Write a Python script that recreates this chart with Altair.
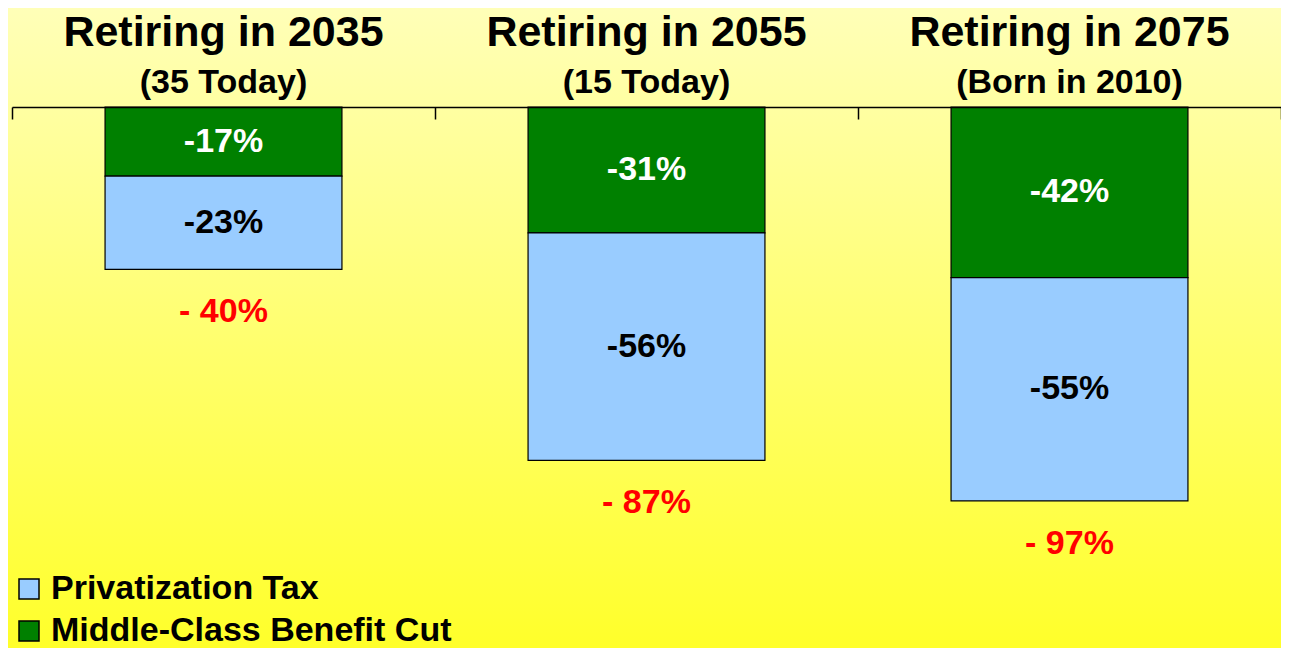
import altair as alt
import pandas as pd

categories = ["2035", "2055", "2075"]
titles = ["Retiring in 2035", "Retiring in 2055", "Retiring in 2075"]
subtitles = ["(35 Today)", "(15 Today)", "(Born in 2010)"]
series_names = ["Privatization Tax", "Middle-Class Benefit Cut"]
series_colors = ["#99CCFF", "#008000"]
benefit_cut = [-17, -31, -42]
privatization_tax = [-23, -56, -55]

rows = []
for i, c in enumerate(categories):
    rows.append({"cat": c, "series": "Middle-Class Benefit Cut", "value": benefit_cut[i], "order": 0})
    rows.append({"cat": c, "series": "Privatization Tax", "value": privatization_tax[i], "order": 1})
df = pd.DataFrame(rows)
head = pd.DataFrame({"cat": categories, "title": titles, "subtitle": subtitles})
one = pd.DataFrame({"a": [0]})

W, H = 1269, 528
PAD = {"left": 4, "top": 99, "right": 0, "bottom": 13}
FONT = "Liberation Sans"

xenc = alt.X(
    "cat:N", sort=categories,
    scale=alt.Scale(paddingInner=0, paddingOuter=0),
    axis=alt.Axis(orient="bottom", offset=-H, labels=False, title=None, domain=True,
                  domainColor="black", domainWidth=1.5, ticks=True, tickBand="extent",
                  tickSize=12, tickColor="black", tickWidth=1.5, grid=False, zindex=1),
)
yscale = alt.Scale(domain=[-130, 0], nice=False, zero=False)

bg = alt.Chart(one).mark_rect(
    fill=alt.LinearGradient(
        gradient="linear",
        stops=[alt.GradientStop(offset=0, color="#FFFFB8"),
               alt.GradientStop(offset=1, color="#FFFF2A")],
        x1=0, x2=0, y1=0, y2=1),
).encode(x=alt.value(-PAD["left"]), x2=alt.value(W + PAD["right"]),
         y=alt.value(-PAD["top"]), y2=alt.value(H + PAD["bottom"]))

base = alt.Chart(df).transform_stack(
    stack="value", groupby=["cat"], as_=["v0", "v1"],
    sort=[alt.SortField("order", order="ascending")],
).transform_calculate(mid="(datum.v0 + datum.v1) / 2", label="datum.value + '%'")

bars = base.mark_bar(stroke="black", strokeWidth=1.2, opacity=1,
                     width=alt.RelativeBandSize(0.56)).encode(
    x=xenc,
    y=alt.Y("v0:Q", scale=yscale, axis=None),
    y2="v1:Q",
    color=alt.Color(
        "series:N",
        scale=alt.Scale(domain=series_names, range=series_colors),
        legend=alt.Legend(title=None, orient="none", legendX=0, legendY=465,
                          direction="vertical", symbolType="square", symbolSize=400,
                          symbolStrokeColor="black", symbolStrokeWidth=1.5, symbolOpacity=1,
                          labelFontSize=34, labelFont=FONT, labelFontWeight="bold",
                          labelColor="black", labelOffset=5, rowPadding=8, padding=0,
                          labelLimit=700),
    ),
)

seg = base.mark_text(fontSize=34, fontWeight="bold", baseline="middle", font=FONT).encode(
    x=xenc,
    y=alt.Y("mid:Q", scale=yscale, axis=None),
    text="label:N",
    color=alt.condition("datum.series == 'Middle-Class Benefit Cut'",
                        alt.value("white"), alt.value("black")),
)

tot = alt.Chart(df).transform_aggregate(
    total="sum(value)", groupby=["cat"]
).transform_calculate(tl="'- ' + abs(datum.total) + '%'").mark_text(
    fontSize=34, fontWeight="bold", color="#FF0000", baseline="alphabetic", dy=53, font=FONT
).encode(x=xenc, y=alt.Y("total:Q", scale=yscale, axis=None), text="tl:N")

t1 = alt.Chart(head).mark_text(fontSize=43, fontWeight="bold", baseline="alphabetic",
                               color="black", font=FONT).encode(
    x=xenc, y=alt.value(-61), text="title:N")
t2 = alt.Chart(head).mark_text(fontSize=34, fontWeight="bold", baseline="alphabetic",
                               color="black", font=FONT).encode(
    x=xenc, y=alt.value(-14), text="subtitle:N")

chart = alt.layer(bg, bars, seg, tot, t1, t2).properties(
    width=W, height=H, padding=PAD, autosize=alt.AutoSizeParams(type="none")
).configure_view(stroke=None).configure(font=FONT, background="#FFFFB8")

chart.save("out.html", embed_options={"renderer": "svg", "actions": False})
